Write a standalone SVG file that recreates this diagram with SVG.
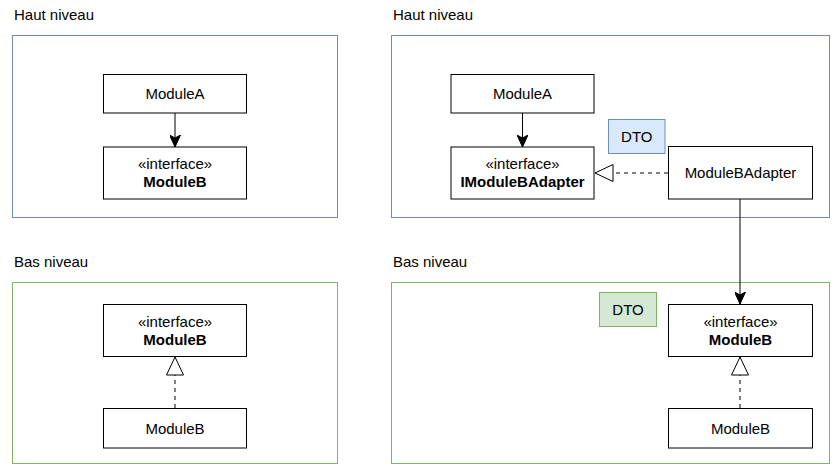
<svg xmlns="http://www.w3.org/2000/svg" width="836" height="471" viewBox="0 0 836 471">
<style>
text{font-family:"Liberation Sans",Arial,Helvetica,sans-serif;font-size:15px;fill:#000}
.c{text-anchor:middle}
.b{font-weight:bold}
.box{fill:#fff;stroke:#000;stroke-width:1}
.hi{fill:#fff;stroke:#6c8ebf;stroke-width:1}
.lo{fill:#fff;stroke:#82b366;stroke-width:1}
.dtob{fill:#dae8fc;stroke:#6c8ebf;stroke-width:1}
.dtog{fill:#d5e8d4;stroke:#82b366;stroke-width:1}
.dep{fill:none;stroke:#000;stroke-width:1;marker-end:url(#arrow)}
.real{fill:none;stroke:#000;stroke-width:1;stroke-dasharray:4 4;marker-end:url(#tri)}
</style>
<defs>
<marker id="arrow" viewBox="0 0 12 11" refX="12" refY="5.5" markerWidth="12" markerHeight="11" markerUnits="userSpaceOnUse" orient="auto">
<path d="M0,0 L12,5.5 L0,11 L3,5.5 Z" fill="#000" stroke="#000" stroke-width="1" stroke-dasharray="none"/>
</marker>
<marker id="tri" viewBox="-1 -1 20 19" refX="18" refY="8.5" markerWidth="20" markerHeight="19" markerUnits="userSpaceOnUse" orient="auto">
<path d="M0,0 L18,8.5 L0,17 Z" fill="#fff" stroke="#000" stroke-width="1" stroke-dasharray="none"/>
</marker>
</defs>

<g id="containers">
<g id="haut-gauche">
<text x="14" y="20">Haut niveau</text>
<rect class="hi" x="12.5" y="35.5" width="325" height="182"/>
</g>
<g id="bas-gauche">
<text x="14" y="267">Bas niveau</text>
<rect class="lo" x="12.5" y="282.5" width="325" height="181"/>
</g>
<g id="haut-droite">
<text x="393" y="20">Haut niveau</text>
<rect class="hi" x="391.5" y="35.5" width="438" height="182"/>
</g>
<g id="bas-droite">
<text x="393" y="267">Bas niveau</text>
<rect class="lo" x="391.5" y="282.5" width="438" height="181"/>
</g>
</g>

<g id="connectors">
<line class="dep" x1="175" y1="113" x2="175" y2="147"/>
<line class="dep" x1="522.5" y1="113" x2="522.5" y2="147"/>
<line class="real" x1="668" y1="173" x2="595" y2="173"/>
<line class="dep" x1="740" y1="199" x2="740" y2="304"/>
<line class="real" x1="175" y1="408" x2="175" y2="357"/>
<line class="real" x1="740" y1="408" x2="740" y2="357"/>
</g>

<g id="l-moduleA">
<rect class="box" x="103.5" y="74.5" width="143" height="38.5"/>
<text class="c" x="175" y="99">ModuleA</text>
</g>
<g id="l-iModuleB">
<rect class="box" x="103.5" y="147" width="143" height="52"/>
<text class="c" x="175" y="169">«interface»</text>
<text class="c b" x="175" y="187">ModuleB</text>
</g>
<g id="l-iModuleB-bas">
<rect class="box" x="103.5" y="304.5" width="143" height="52"/>
<text class="c" x="175" y="327">«interface»</text>
<text class="c b" x="175" y="345">ModuleB</text>
</g>
<g id="l-moduleB">
<rect class="box" x="103.5" y="408.5" width="143" height="39.5"/>
<text class="c" x="175" y="434">ModuleB</text>
</g>

<g id="r-moduleA">
<rect class="box" x="451" y="74.5" width="143" height="38.5"/>
<text class="c" x="522.5" y="99">ModuleA</text>
</g>
<g id="r-iModuleBAdapter">
<rect class="box" x="451" y="147" width="143" height="52"/>
<text class="c" x="522.5" y="169">«interface»</text>
<text class="c b" x="522.5" y="187">IModuleBAdapter</text>
</g>
<g id="r-dto-haut">
<rect class="dtob" x="608.5" y="119.5" width="56.5" height="34"/>
<text class="c" x="636.75" y="142">DTO</text>
</g>
<g id="r-moduleBAdapter">
<rect class="box" x="668.5" y="146.5" width="144" height="52.5"/>
<text class="c" x="740.5" y="178">ModuleBAdapter</text>
</g>
<g id="r-dto-bas">
<rect class="dtog" x="599.5" y="292.5" width="57" height="34"/>
<text class="c" x="628" y="315">DTO</text>
</g>
<g id="r-iModuleB">
<rect class="box" x="668.5" y="304.5" width="144" height="52"/>
<text class="c" x="740.5" y="327">«interface»</text>
<text class="c b" x="740.5" y="345">ModuleB</text>
</g>
<g id="r-moduleB">
<rect class="box" x="668.5" y="408.5" width="144" height="39.5"/>
<text class="c" x="740.5" y="434">ModuleB</text>
</g>
</svg>
